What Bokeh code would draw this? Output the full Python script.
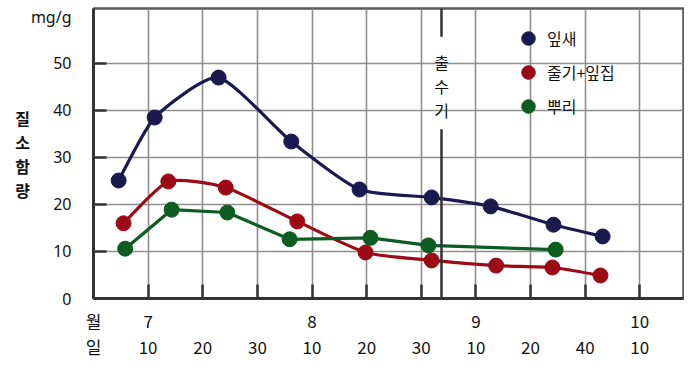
from bokeh.plotting import figure
from bokeh.models import FixedTicker, LinearAxis, Label, Legend, LegendItem, Range1d, ColumnDataSource
from bokeh.embed import file_html
from bokeh.resources import INLINE

# x positions in 10-day steps: 1 = 7/10, 2 = 7/20, 3 = 7/30, 4 = 8/10, ...
leaf_x = [0.46, 1.12, 2.29, 3.62, 4.87, 6.19, 7.27, 8.42, 9.32]
leaf_y = [25.1, 38.5, 47.0, 33.4, 23.2, 21.5, 19.6, 15.7, 13.2]
stem_x = [0.55, 1.37, 2.42, 3.73, 4.98, 6.19, 7.37, 8.40, 9.28]
stem_y = [16.0, 24.9, 23.6, 16.4, 9.8, 8.1, 7.0, 6.6, 4.9]
root_x = [0.58, 1.43, 2.45, 3.59, 5.07, 6.13, 8.46]
root_y = [10.6, 18.9, 18.3, 12.6, 12.9, 11.3, 10.4]

series_names = ["잎새", "줄기+잎집", "뿌리"]
series_colors = ["#1b1a4e", "#9c0b15", "#0d5c22"]

y_ticks = [0, 10, 20, 30, 40, 50]
unit_pos = 59.8
unit_label = "mg/g"
x_ticks = list(range(11))
month_labels = {0: "월", 1: "7", 4: "8", 7: "9", 10: "10"}
day_labels = ["일", "10", "20", "30", "10", "20", "30", "10", "20", "40", "10"]
heading_x = 6.37
y_title = "질\n소\n함\n량"
heading_chars = ["출", "수", "기"]

KFONT = "Noto Sans CJK KR"
NFONT = "Noto Sans"
DARK = "#333333"
GRID = "#8e8e8e"

p = figure(width=684, height=364, x_range=Range1d(0, 10.8), y_range=Range1d(0, 61.7),
           output_backend="svg", toolbar_location=None,
           min_border_left=93, min_border_right=1, min_border_top=8, min_border_bottom=66)
p.background_fill_color = "white"
p.border_fill_color = "white"
p.outline_line_color = "#5a5a5a"
p.outline_line_width = 2.5

# grids
p.xgrid.ticker = FixedTicker(ticks=x_ticks[1:])
p.ygrid.ticker = FixedTicker(ticks=y_ticks[1:])
for g in (p.xgrid, p.ygrid):
    g.grid_line_color = GRID
    g.grid_line_width = 1.6

# y axis: labels on major ticks (incl. unit), visible inward ticks as minor ticks
yax = p.yaxis[0]
yax.ticker = FixedTicker(ticks=y_ticks + [unit_pos], minor_ticks=y_ticks[1:])
yax.major_label_overrides = {unit_pos: unit_label}
yax.axis_line_color = DARK
yax.axis_line_width = 3
yax.major_tick_line_color = None
yax.minor_tick_in = 13
yax.minor_tick_out = 0
yax.minor_tick_line_color = DARK
yax.minor_tick_line_width = 2.5
yax.major_label_text_font = NFONT
yax.major_label_text_font_size = "16px"
yax.major_label_text_color = "#111111"
yax.major_label_standoff = 16
yax.axis_label = y_title
yax.axis_label_orientation = "horizontal"
yax.axis_label_text_font = KFONT
yax.axis_label_text_font_size = "16px"
yax.axis_label_text_font_style = "bold"
yax.axis_label_text_line_height = 1.0
yax.axis_label_text_color = "#111111"
yax.axis_label_standoff = -2

# month axis (closest to frame, carries the ticks)
mx = p.xaxis[0]
mx.ticker = FixedTicker(ticks=x_ticks)
mx.major_label_overrides = {i: month_labels.get(i, "") for i in x_ticks}
mx.axis_line_color = DARK
mx.axis_line_width = 3
mx.major_tick_in = 14
mx.major_tick_out = 0
mx.major_tick_line_color = DARK
mx.major_tick_line_width = 2.5
mx.minor_tick_line_color = None
mx.major_label_text_font = KFONT
mx.major_label_text_font_size = "17px"
mx.major_label_text_color = "#111111"
mx.major_label_standoff = 9

# day axis
dx = LinearAxis(ticker=FixedTicker(ticks=x_ticks),
                major_label_overrides={i: day_labels[i] for i in x_ticks},
                axis_line_color=None, major_tick_line_color=None, minor_tick_line_color=None,
                major_label_text_font=KFONT, major_label_text_font_size="17px",
                major_label_text_color="#111111", major_label_standoff=-8)
p.add_layout(dx, "below")


def smooth(xs, ys, t=0.6):
    n = len(xs)
    x0, y0, x1, y1, cx0, cy0, cx1, cy1 = [], [], [], [], [], [], [], []
    for i in range(n - 1):
        a = max(i - 1, 0)
        d = min(i + 2, n - 1)
        x0.append(xs[i]); y0.append(ys[i]); x1.append(xs[i + 1]); y1.append(ys[i + 1])
        cx0.append(xs[i] + (xs[i + 1] - xs[a]) / 6 * t)
        cy0.append(ys[i] + (ys[i + 1] - ys[a]) / 6 * t)
        cx1.append(xs[i + 1] - (xs[d] - xs[i]) / 6 * t)
        cy1.append(ys[i + 1] - (ys[d] - ys[i]) / 6 * t)
    return ColumnDataSource(dict(x0=x0, y0=y0, x1=x1, y1=y1, cx0=cx0, cy0=cy0, cx1=cx1, cy1=cy1))


items = []
data = [(leaf_x, leaf_y, True), (stem_x, stem_y, True), (root_x, root_y, False)]
for (xs, ys, curved), name, col in zip(data, series_names, series_colors):
    if curved:
        p.bezier(x0="x0", y0="y0", x1="x1", y1="y1", cx0="cx0", cy0="cy0", cx1="cx1", cy1="cy1",
                 source=smooth(xs, ys), line_color=col, line_width=3.2)
    else:
        p.line(xs, ys, line_color=col, line_width=3.2)
    r = p.scatter(xs, ys, size=15, fill_color=col, line_color=col)
    items.append(LegendItem(label=name, renderers=[r]))

legend = Legend(items=items, location=(416, 175), margin=0, padding=0, spacing=0,
                glyph_width=38, glyph_height=34, label_height=34, label_standoff=0,
                label_text_font=KFONT, label_text_font_size="16px", label_text_color="#111111",
                background_fill_alpha=0, border_line_color=None)
p.add_layout(legend, "center")

# heading (출수기) marker line, broken around its text
p.segment(x0=[heading_x, heading_x], y0=[61.7, 36.0], x1=[heading_x, heading_x], y1=[55.7, 0],
          line_color=DARK, line_width=2.5)
for i, ch in enumerate(heading_chars):
    p.add_layout(Label(x=heading_x, y=50.4 - i * 5.1, text=ch, text_font=KFONT, text_font_size="16px",
                       text_align="center", text_baseline="middle", text_color="#111111"))

open("out.html", "w").write(file_html(p, INLINE))
